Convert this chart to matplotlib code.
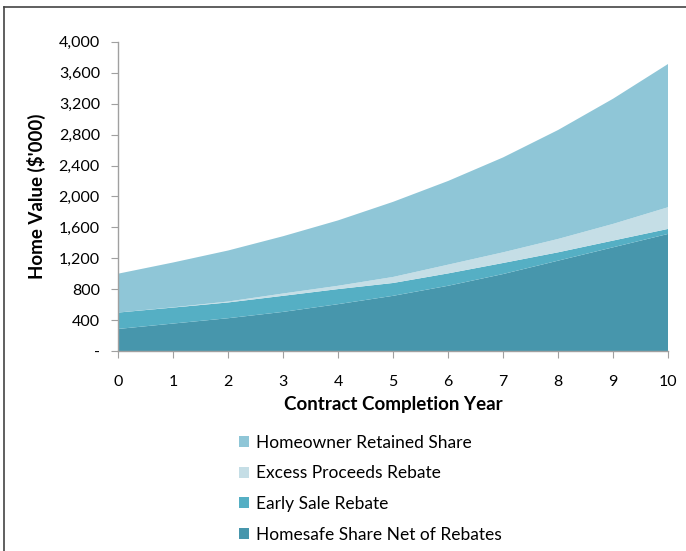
import matplotlib
matplotlib.use("Agg")
import matplotlib.pyplot as plt
from matplotlib.lines import Line2D
from matplotlib.patches import Patch

plt.rcParams["font.family"] = ["Lato", "DejaVu Sans"]

# Stacked components of home value by completion year ($'000)
years = list(range(0, 11))
homesafe_net = [285, 355, 424, 506, 606, 714, 844, 996, 1169, 1342, 1515]
early_sale = [212, 207, 204, 208, 195, 166, 160, 143, 108, 87, 65]
excess_rebate = [0, 3, 12, 30, 43, 78, 113, 138, 173, 216, 281]
homeowner_share = [503, 580, 660, 741, 846, 972, 1083, 1228, 1410, 1620, 1854]

labels = ["Homesafe Share Net of Rebates", "Early Sale Rebate",
          "Excess Proceeds Rebate", "Homeowner Retained Share"]
colors = ["#4796AC", "#55AFC4", "#C5DEE6", "#8FC6D7"]

fig = plt.figure(figsize=(6.86, 5.51), dpi=100)
ax = fig.add_axes([0.172, 0.363, 0.802, 0.561])

ax.stackplot(years, homesafe_net, early_sale, excess_rebate, homeowner_share,
             colors=colors, linewidth=0)

ax.set_xlim(0, 10)
ax.set_ylim(0, 4000)
ax.set_xticks(years)
yt = list(range(0, 4001, 400))
ax.set_yticks(yt)
ax.set_yticklabels(["-"] + [f"{v:,}" for v in yt[1:]])

for side in ("top", "right"):
    ax.spines[side].set_visible(False)
for side in ("left", "bottom"):
    ax.spines[side].set_color("#A0A0A0")
    ax.spines[side].set_linewidth(1.0)
ax.tick_params(axis="both", direction="out", length=5, color="#A0A0A0",
               labelsize=11.5, labelcolor="black")
ax.tick_params(axis="y", pad=8)
ax.tick_params(axis="x", pad=12)

ax.set_xlabel("Contract Completion Year", fontsize=13.5, fontweight="bold",
              labelpad=5)
ax.set_ylabel("Home Value ($'000)", fontsize=13.5, fontweight="bold",
              labelpad=9)

# legend listed top-down from the top layer
handles = [Patch(facecolor=c, edgecolor="none") for c in colors[::-1]]
fig.legend(handles, labels[::-1], loc="upper left",
           bbox_to_anchor=(0.338, 0.224), frameon=False, fontsize=12.5,
           handlelength=0.6, handleheight=0.6, handletextpad=0.4,
           labelspacing=0.85, borderaxespad=0)

# outer frame, left and top edges
fig.add_artist(Line2D([0.006, 0.006], [0, 0.988], color="#444444", lw=1.2,
                      transform=fig.transFigure))
fig.add_artist(Line2D([0.006, 1.0], [0.988, 0.988], color="#444444", lw=1.2,
                      transform=fig.transFigure))

fig.savefig("out.png", dpi=100)
